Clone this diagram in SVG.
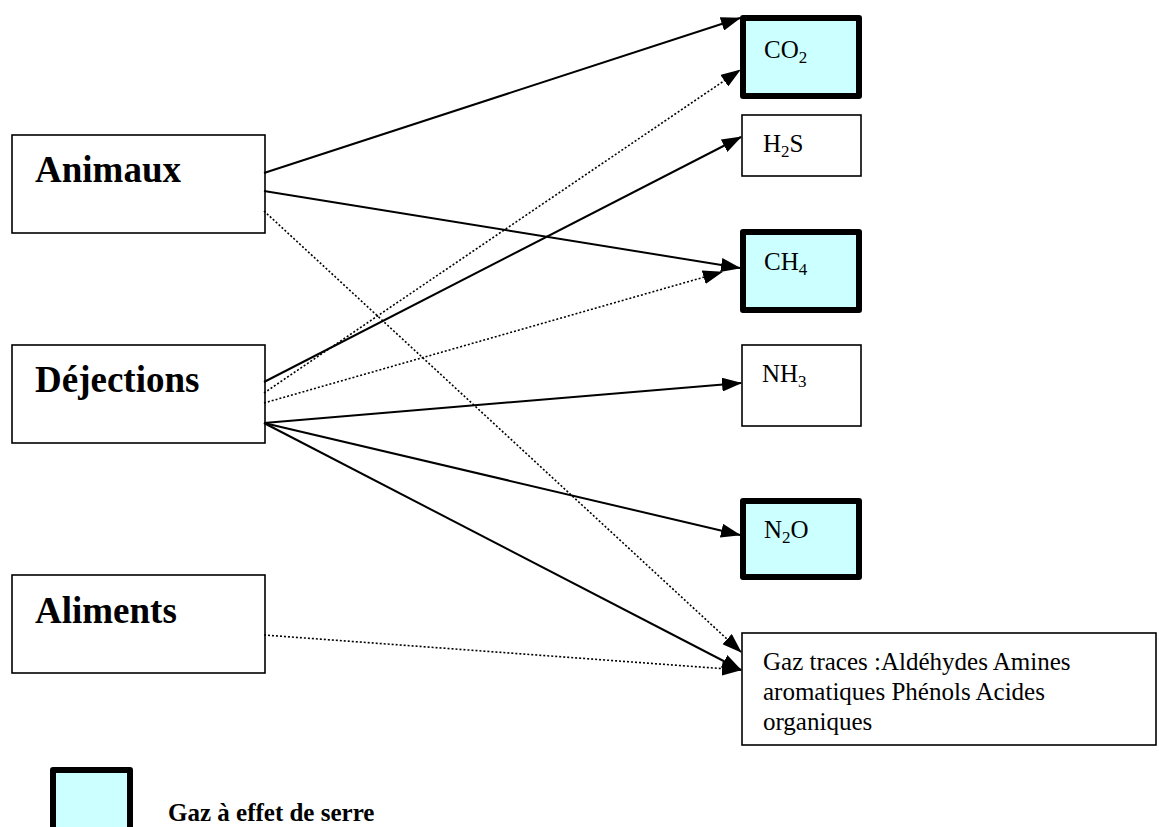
<svg xmlns="http://www.w3.org/2000/svg" width="1159" height="827" viewBox="0 0 1159 827">
  <defs>
    <marker id="arrow" viewBox="0 0 20 14" refX="19" refY="7" markerWidth="20" markerHeight="14" markerUnits="userSpaceOnUse" orient="auto">
      <path d="M0,0 L20,7 L0,14 z" fill="#000"/>
    </marker>
    <style>
      .src { fill: #fff; stroke: #000; stroke-width: 1.6; }
      .gas { fill: #fff; stroke: #000; stroke-width: 1.6; }
      .ghg { fill: #ccffff; stroke: #000; stroke-width: 6; stroke-linejoin: round; }
      .big { font-family: "Liberation Serif", "Times New Roman", serif; font-weight: bold; font-size: 37px; fill: #000; }
      .lbl { font-family: "Liberation Serif", "Times New Roman", serif; font-size: 25px; fill: #000; }
      .sub { font-size: 17px; }
      .leg { font-family: "Liberation Serif", "Times New Roman", serif; font-weight: bold; font-size: 25px; fill: #000; }
      .solid { fill: none; stroke: #000; stroke-width: 2; marker-end: url(#arrow); }
      .dot { fill: none; stroke: #000; stroke-width: 1.6; stroke-dasharray: 2 2; marker-end: url(#arrow); }
    </style>
  </defs>
  <rect width="1159" height="827" fill="#fff"/>

  <!-- sources -->
  <g id="animaux">
    <rect class="src" x="12" y="135" width="253" height="98"/>
    <text class="big" x="35" y="182">Animaux</text>
  </g>
  <g id="dejections">
    <rect class="src" x="12" y="345" width="253" height="98"/>
    <text class="big" x="35" y="392">Déjections</text>
  </g>
  <g id="aliments">
    <rect class="src" x="12" y="575" width="253" height="98"/>
    <text class="big" x="35" y="623">Aliments</text>
  </g>

  <!-- emitted gases -->
  <g id="co2">
    <rect class="ghg" x="743" y="18" width="116" height="78"/>
    <text class="lbl" x="764" y="58">CO<tspan class="sub" dy="5">2</tspan></text>
  </g>
  <g id="h2s">
    <rect class="gas" x="742" y="115" width="119" height="61"/>
    <text class="lbl" x="763" y="152">H<tspan class="sub" dy="5">2</tspan><tspan dy="-5">S</tspan></text>
  </g>
  <g id="ch4">
    <rect class="ghg" x="743" y="232" width="116" height="78"/>
    <text class="lbl" x="764" y="270">CH<tspan class="sub" dy="5">4</tspan></text>
  </g>
  <g id="nh3">
    <rect class="gas" x="742" y="345" width="119" height="81"/>
    <text class="lbl" x="762" y="382">NH<tspan class="sub" dy="5">3</tspan></text>
  </g>
  <g id="n2o">
    <rect class="ghg" x="743" y="501" width="116" height="76"/>
    <text class="lbl" x="764" y="538">N<tspan class="sub" dy="5">2</tspan><tspan dy="-5">O</tspan></text>
  </g>
  <g id="traces">
    <rect class="gas" x="742" y="633" width="414" height="112"/>
    <text class="lbl" x="763" y="670">Gaz traces :Aldéhydes Amines</text>
    <text class="lbl" x="763" y="700">aromatiques Phénols Acides</text>
    <text class="lbl" x="763" y="730">organiques</text>
  </g>

  <!-- legend -->
  <g id="legend">
    <rect class="ghg" x="53" y="770" width="77" height="80"/>
    <text class="leg" x="168" y="821">Gaz à effet de serre</text>
  </g>

  <!-- connectors -->
  <g id="connectors">
    <line class="solid" x1="264" y1="173" x2="740" y2="18"/>
    <line class="solid" x1="264" y1="191" x2="740" y2="268"/>
    <line class="dot" x1="264" y1="211" x2="741" y2="652"/>
    <line class="solid" x1="264" y1="382" x2="741" y2="137"/>
    <line class="dot" x1="264" y1="393" x2="740" y2="70"/>
    <line class="dot" x1="264" y1="403" x2="722" y2="272"/>
    <line class="solid" x1="264" y1="423" x2="741" y2="383"/>
    <line class="solid" x1="264" y1="423" x2="740" y2="535"/>
    <line class="solid" x1="264" y1="423" x2="741" y2="670"/>
    <line class="dot" x1="264" y1="635" x2="741" y2="670"/>
  </g>
</svg>
